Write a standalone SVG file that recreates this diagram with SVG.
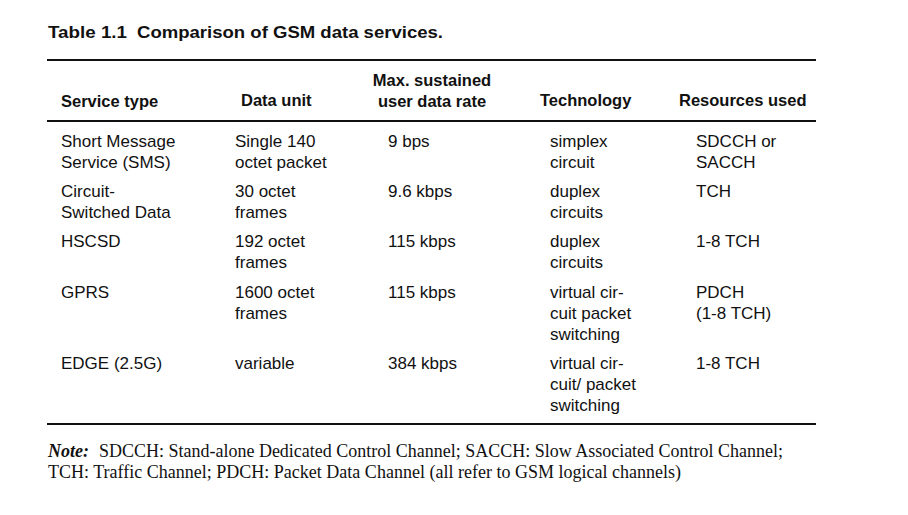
<svg xmlns="http://www.w3.org/2000/svg" width="908" height="515" viewBox="0 0 908 515">
<style>
.t{font-family:"Liberation Sans",Arial,sans-serif;font-size:17px;fill:#111}
.b{font-family:"Liberation Sans",Arial,sans-serif;font-size:16.5px;font-weight:bold;fill:#111}
.n{font-family:"Liberation Serif","Times New Roman",serif;font-size:18px;fill:#111}
.r{stroke:#111;stroke-width:2}
</style>
<rect width="908" height="515" fill="#fff"/>
<g id="title">
<text class="b" x="48" y="38" style="font-size:17px" textLength="79" lengthAdjust="spacingAndGlyphs">Table 1.1</text>
<text class="b" x="137" y="38" style="font-size:17px" textLength="306" lengthAdjust="spacingAndGlyphs">Comparison of GSM data services.</text>
</g>
<g id="rules">
<line class="r" x1="47" y1="60" x2="816" y2="60"/>
<line class="r" x1="47" y1="121" x2="816" y2="121"/>
<line class="r" x1="47" y1="424" x2="816" y2="424"/>
</g>
<g id="header">
<text class="b" x="61" y="107">Service type</text>
<text class="b" x="241" y="106">Data unit</text>
<text class="b" x="432" y="86" text-anchor="middle">Max. sustained</text>
<text class="b" x="432" y="107" text-anchor="middle">user data rate</text>
<text class="b" x="540" y="106">Technology</text>
<text class="b" x="679" y="106">Resources used</text>
</g>
<g id="row-sms">
<text class="t" x="61" y="147">Short Message</text>
<text class="t" x="61" y="168">Service (SMS)</text>
<text class="t" x="235" y="147">Single 140</text>
<text class="t" x="235" y="168">octet packet</text>
<text class="t" x="388" y="147">9 bps</text>
<text class="t" x="550" y="147">simplex</text>
<text class="t" x="550" y="168">circuit</text>
<text class="t" x="696" y="147">SDCCH or</text>
<text class="t" x="696" y="168">SACCH</text>
</g>
<g id="row-csd">
<text class="t" x="61" y="197">Circuit-</text>
<text class="t" x="61" y="218">Switched Data</text>
<text class="t" x="235" y="197">30 octet</text>
<text class="t" x="235" y="218">frames</text>
<text class="t" x="388" y="197">9.6 kbps</text>
<text class="t" x="550" y="197">duplex</text>
<text class="t" x="550" y="218">circuits</text>
<text class="t" x="696" y="197">TCH</text>
</g>
<g id="row-hscsd">
<text class="t" x="61" y="247">HSCSD</text>
<text class="t" x="235" y="247">192 octet</text>
<text class="t" x="235" y="268">frames</text>
<text class="t" x="388" y="247">115 kbps</text>
<text class="t" x="550" y="247">duplex</text>
<text class="t" x="550" y="268">circuits</text>
<text class="t" x="696" y="247">1-8 TCH</text>
</g>
<g id="row-gprs">
<text class="t" x="61" y="298">GPRS</text>
<text class="t" x="235" y="298">1600 octet</text>
<text class="t" x="235" y="319">frames</text>
<text class="t" x="388" y="298">115 kbps</text>
<text class="t" x="550" y="298">virtual cir-</text>
<text class="t" x="550" y="319">cuit packet</text>
<text class="t" x="550" y="340">switching</text>
<text class="t" x="696" y="298">PDCH</text>
<text class="t" x="696" y="319">(1-8 TCH)</text>
</g>
<g id="row-edge">
<text class="t" x="61" y="369">EDGE (2.5G)</text>
<text class="t" x="235" y="369">variable</text>
<text class="t" x="388" y="369">384 kbps</text>
<text class="t" x="550" y="369">virtual cir-</text>
<text class="t" x="550" y="390">cuit/ packet</text>
<text class="t" x="550" y="411">switching</text>
<text class="t" x="696" y="369">1-8 TCH</text>
</g>
<g id="note">
<text class="n" x="48" y="457" font-style="italic" font-weight="bold">Note:</text>
<text class="n" x="99" y="457" textLength="684" lengthAdjust="spacingAndGlyphs">SDCCH: Stand-alone Dedicated Control Channel; SACCH: Slow Associated Control Channel;</text>
<text class="n" x="48" y="478" textLength="633" lengthAdjust="spacingAndGlyphs">TCH: Traffic Channel; PDCH: Packet Data Channel (all refer to GSM logical channels)</text>
</g>
</svg>
